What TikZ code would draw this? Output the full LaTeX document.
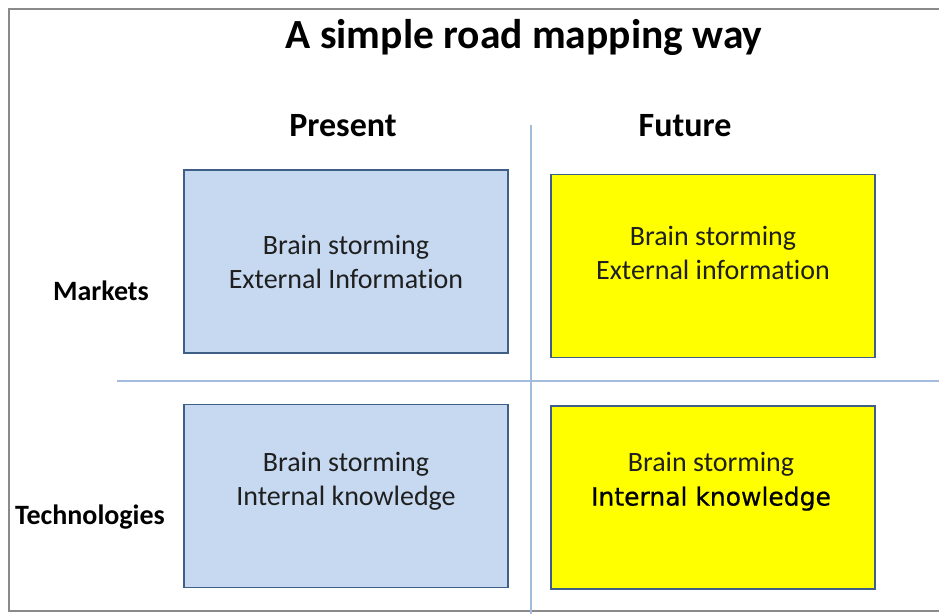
\documentclass[tikz,border=0pt]{standalone}
\usepackage{fontspec}
\setmainfont[Ligatures=NoCommon]{Carlito}
\newfontfamily\dejavu[FakeBold=0.6]{DejaVu Sans}
\usetikzlibrary{calc}

\definecolor{cellblue}{HTML}{C6D9F1}
\definecolor{cellyellow}{HTML}{FFFF00}
\definecolor{celledge}{HTML}{3F5F86}
\definecolor{gridblue}{HTML}{A3BCDB}
\definecolor{framegray}{HTML}{8A8A8A}

\tikzset{
    cell/.style={rectangle, draw=celledge, line width=1.8pt, minimum width=324pt, minimum height=183pt, inner sep=0pt},
    celltext/.style={align=center, text=black!88, font=\fontsize{28}{34}\selectfont},
    heading/.style={anchor=base, font=\bfseries\fontsize{34}{40}\selectfont},
    rowname/.style={anchor=base, font=\bfseries\fontsize{28}{34}\selectfont},
    gridline/.style={draw=gridblue, line width=1.6pt}
}

\begin{document}
\begin{tikzpicture}[x=1pt, y=-1pt]
    \useasboundingbox (0,0) rectangle (939,613);
    \clip (0,0) rectangle (939,613);
    \fill[white] (0,0) rectangle (939,613);
    
    % frame, open to the right
    \draw[framegray, line width=2.6pt] (960,9) -- (9,9) -- (9,611) -- (960,611);
    
    \node[anchor=base, font=\bfseries\fontsize{41.5}{46}\selectfont] (title) at (524,48) {A simple road mapping way};
    
    \node[heading] (present) at (343,136) {Present};
    \node[heading] (future) at (685,136) {Future};
    
    \node[rowname] (markets) at (101,300) {Markets};
    \node[rowname] (tech) at (90,524) {Technologies};
    
    % the two separating lines
    \coordinate (vtop) at (531,125);
    \coordinate (vbot) at (531,620);
    \coordinate (hleft) at (117,381);
    \coordinate (hright) at (950,381);
    \draw[gridline] (vtop) -- (vbot);
    \draw[gridline] (hleft) -- (hright);
    
    % the four cells
    \node[cell, fill=cellblue] (mktnow) at (346,261.5) {};
    \node[cell, fill=cellyellow] (mktlater) at (713,266) {};
    \node[cell, fill=cellblue] (technow) at (346,496) {};
    \node[cell, fill=cellyellow] (techlater) at (713,497.5) {};
    
    \node[celltext] (mktnowtxt) at (mktnow.center) {Brain storming\\External Information};
    \node[celltext] (mktlatertxt) at ($(mktlater.center) + (0,-13)$) {Brain storming\\External information};
    \node[celltext] (technowtxt) at ($(technow.center) + (0,-15)$) {Brain storming\\Internal knowledge};
    \node[celltext] (techlatertxt) at ($(techlater.center) + (-2,-16)$) {Brain storming\\{\dejavu\fontsize{25}{32}\selectfont\color{black} Internal knowledge}};
    
\end{tikzpicture}
\end{document}
